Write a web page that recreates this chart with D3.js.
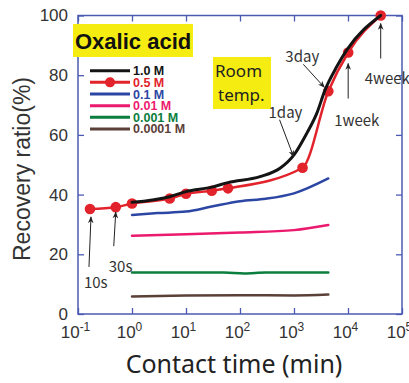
<!DOCTYPE html>
<html>
<head>
<meta charset="utf-8">
<script src="https://cdn.jsdelivr.net/npm/d3@7"></script>
<style>
  body { margin: 0; background: #fff; }
  svg { display: block; }
</style>
</head>
<body>
<svg></svg>
<script>
var width = 409;
var height = 383;

// contact times in minutes, recovery ratio in %
var times1M = [1, 5, 10, 30, 60, 235, 550, 1000, 1720, 2640, 3750, 6170, 9460, 40320];
var ratio1M = [37.4, 39.3, 41, 42.5, 44, 46, 48.8, 53.3, 60.5, 67.2, 75, 82.8, 88.4, 100];
var times05M = [1 / 6, 0.5, 1, 5, 10, 30, 60, 1440, 4320, 10080, 40320];
var ratio05M = [35.2, 35.8, 37.0, 38.7, 40.3, 41.3, 42.1, 49.0, 74.6, 87.6, 100];
var times01M = [1, 3, 10, 30, 100, 300, 1000, 4320];
var ratio01M = [33.2, 33.8, 34.3, 36, 37.8, 38.6, 40.4, 45.4];
var times001M = [1, 10, 100, 1000, 4320];
var ratio001M = [26.2, 26.7, 27.3, 28.1, 29.8];
var times0001M = [1, 50, 120, 300, 4320];
var ratio0001M = [13.9, 13.9, 13.6, 13.9, 13.9];
var times00001M = [1, 10, 100, 1000, 4320];
var ratio00001M = [5.9, 6.2, 6.3, 6.2, 6.5];

var seriesNames = ['1.0 M', '0.5 M', '0.1 M', '0.01 M', '0.001 M', '0.0001 M'];
var colors = ['#141414', '#e2232b', '#2c46a3', '#ec1a6e', '#0b7d3d', '#5b4038'];

var xTicks = [1e-1, 1e0, 1e1, 1e2, 1e3, 1e4, 1e5];
var yTicks = [0, 20, 40, 60, 80, 100];

var series = [
  { name: seriesNames[0], t: times1M, v: ratio1M, color: colors[0], w: 3 },
  { name: seriesNames[1], t: times05M, v: ratio05M, color: colors[1], w: 2.5, dots: true },
  { name: seriesNames[2], t: times01M, v: ratio01M, color: colors[2], w: 2.5 },
  { name: seriesNames[3], t: times001M, v: ratio001M, color: colors[3], w: 2.5 },
  { name: seriesNames[4], t: times0001M, v: ratio0001M, color: colors[4], w: 2.5 },
  { name: seriesNames[5], t: times00001M, v: ratio00001M, color: colors[5], w: 2.5 }
];

var axisColor = '#4b5bb3';

var x = d3.scaleLog().domain([1e-1, 1e5]).range([78, 402]);
var y = d3.scaleLinear().domain([0, 100]).range([314, 15.5]);

var svg = d3.select('svg')
    .attr('width', width)
    .attr('height', height);

svg.append('defs').append('marker')
    .attr('id', 'arr')
    .attr('viewBox', '0 0 10 10')
    .attr('refX', 9).attr('refY', 5)
    .attr('markerWidth', 7).attr('markerHeight', 7)
    .attr('markerUnits', 'userSpaceOnUse')
    .attr('orient', 'auto')
  .append('path')
    .attr('d', 'M0,1 L10,5 L0,9 L3,5 Z')
    .attr('fill', '#222');

// axes with inner ticks on every side
var bottom = svg.append('g')
    .attr('transform', 'translate(0,' + y(0) + ')')
    .call(d3.axisBottom(x).tickValues(xTicks).tickSize(-6).tickPadding(12));
bottom.selectAll('.tick text').text(null)
    .attr('dx', '-3')
    .each(function(d) {
      var t = d3.select(this);
      t.append('tspan').text('10');
      t.append('tspan').text(Math.round(Math.log10(d)))
        .attr('dy', '-0.55em').attr('font-size', 12);
    });
svg.append('g')
    .attr('transform', 'translate(0,' + y(100) + ')')
    .call(d3.axisTop(x).tickValues(xTicks).tickSize(-6).tickFormat(''));
svg.append('g')
    .attr('transform', 'translate(' + x(1e-1) + ',0)')
    .call(d3.axisLeft(y).tickValues(yTicks).tickSize(-6).tickPadding(10));
svg.append('g')
    .attr('transform', 'translate(' + x(1e5) + ',0)')
    .call(d3.axisRight(y).tickValues(yTicks).tickSize(-6).tickFormat(''));

svg.selectAll('.domain').remove();
svg.selectAll('.tick line').attr('stroke', axisColor).attr('stroke-width', 1.3);
svg.selectAll('.tick text')
    .attr('fill', '#333')
    .attr('font-family', 'Liberation Sans, Arial, sans-serif')
    .attr('font-size', 17);

svg.append('rect')
    .attr('x', x(1e-1)).attr('y', y(100))
    .attr('width', x(1e5) - x(1e-1)).attr('height', y(0) - y(100))
    .attr('fill', 'none')
    .attr('stroke', axisColor)
    .attr('stroke-width', 1.5);

// axis titles
svg.append('text')
    .attr('x', 234).attr('y', 373)
    .attr('text-anchor', 'middle')
    .attr('font-family', 'Noto Sans, Open Sans, sans-serif')
    .attr('font-size', 25)
    .attr('fill', '#222')
    .text('Contact time (min)');
svg.append('text')
    .attr('transform', 'translate(30,' + 169 + ') rotate(-90)')
    .attr('text-anchor', 'middle')
    .attr('font-family', 'Liberation Sans, Arial, sans-serif')
    .attr('font-size', 23)
    .attr('fill', '#333')
    .text('Recovery ratio(%)');

// curves
var line = d3.line()
    .x(d => x(d[0]))
    .y(d => y(d[1]))
    .curve(d3.curveMonotoneX);

series.slice().reverse().forEach(function(s) {
  var pts = s.t.map((t, i) => [t, s.v[i]]);
  svg.append('path')
      .datum(pts)
      .attr('fill', 'none')
      .attr('stroke', s.color)
      .attr('stroke-width', s.w)
      .attr('stroke-linecap', 'round')
      .attr('d', line);
  if (s.dots) {
    svg.selectAll(null)
      .data(pts)
      .enter()
      .append('circle')
        .attr('cx', d => x(d[0]))
        .attr('cy', d => y(d[1]))
        .attr('r', 5.3)
        .attr('fill', s.color);
  }
});

// title boxes
svg.append('rect')
    .attr('x', 73).attr('y', 24).attr('width', 120).attr('height', 33)
    .attr('fill', '#f5ed12');
svg.append('text')
    .attr('x', 75).attr('y', 48.5)
    .attr('font-family', 'Liberation Sans, Arial, sans-serif')
    .attr('font-weight', 'bold')
    .attr('font-size', 22)
    .attr('fill', '#111')
    .text('Oxalic acid');

svg.append('rect')
    .attr('x', 213).attr('y', 57).attr('width', 58).attr('height', 52)
    .attr('fill', '#f5ed12');
svg.append('text')
    .attr('font-family', 'Noto Sans, Open Sans, sans-serif')
    .attr('font-size', 17)
    .attr('fill', '#222')
    .selectAll('tspan')
    .data(['Room', 'temp.'])
    .enter()
    .append('tspan')
      .attr('x', (d, i) => i === 0 ? 215 : 218)
      .attr('y', (d, i) => 77 + i * 24)
      .text(d => d);

// legend
var legend = svg.append('g')
    .selectAll('g')
    .data(series)
    .enter()
    .append('g')
      .attr('transform', (d, i) => 'translate(90,' + (70.7 + i * 11.65) + ')');
legend.append('line')
    .attr('x1', 0).attr('x2', 40)
    .attr('stroke', d => d.color)
    .attr('stroke-width', 3);
legend.filter(d => d.dots).append('circle')
    .attr('cx', 20).attr('r', 5)
    .attr('fill', d => d.color);
legend.append('text')
    .attr('x', 43).attr('y', 4.5)
    .attr('font-family', 'Liberation Sans, Arial, sans-serif')
    .attr('font-weight', 'bold')
    .attr('font-size', 12.5)
    .attr('fill', d => d.color)
    .text(d => d.name);

// annotations pointing at the 0.5 M measurements
var notes = [
  { i: 0, text: '10s', tip: [1, 8], tail: [-1, 58], lab: [-6, 79] },
  { i: 1, text: '30s', tip: [0, 5], tail: [-2, 39], lab: [-7, 65] },
  { i: 7, text: '1day', tip: [-9, -11], tail: [-23, -48], lab: [-34, -50] },
  { i: 8, text: '3day', tip: [-4, -4], tail: [-25, -27], lab: [-43, -29] },
  { i: 9, text: '1week', tip: [0, 11], tail: [0, 46], lab: [-14, 73] },
  { i: 10, text: '4week', tip: [0, 8], tail: [0, 43], lab: [-16, 68] }
];
notes.forEach(function(n) {
  var px = x(times05M[n.i]);
  var py = y(ratio05M[n.i]);
  svg.append('line')
      .attr('x1', px + n.tail[0]).attr('y1', py + n.tail[1])
      .attr('x2', px + n.tip[0]).attr('y2', py + n.tip[1])
      .attr('stroke', '#222')
      .attr('stroke-width', 1)
      .attr('marker-end', 'url(#arr)');
  svg.append('text')
      .attr('x', px + n.lab[0]).attr('y', py + n.lab[1])
      .attr('font-family', 'Noto Sans CJK JP, Noto Sans, sans-serif')
      .attr('font-size', 15)
      .attr('fill', '#333')
      .text(n.text);
});
</script>
</body>
</html>
